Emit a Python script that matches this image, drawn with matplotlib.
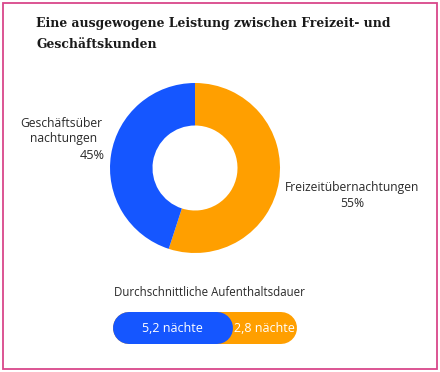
import matplotlib.pyplot as plt
from matplotlib.patches import Rectangle

plt.rcParams['font.family'] = ['Open Sans', 'DejaVu Sans']

W, H = 440, 372

title_lines = ['Eine ausgewogene Leistung zwischen Freizeit- und', 'Geschäftskunden']
segments = ['Freizeitübernachtungen', 'Geschäftsübernachtungen']
shares = [55, 45]
colors = ['#ff9f00', '#1556ff']
stay_label = 'Durchschnittliche Aufenthaltsdauer'
stay_nights = [5.2, 2.8]
stay_texts = ['5,2 nächte', '2,8 nächte']


def fx(px):
    return px / W


def fy(py):
    return 1 - py / H


fig = plt.figure(figsize=(W / 100, H / 100), dpi=100)
fig.patch.set_facecolor('white')

# pink frame
fig.patches.append(Rectangle((fx(3), fy(369)), fx(434), 366 / H, transform=fig.transFigure,
                             fill=False, edgecolor='#d9468a', linewidth=1.3))

# title
for i, line in enumerate(title_lines):
    fig.text(fx(36), fy(27 + 21 * i), line, family=['DejaVu Serif'], weight='bold',
             fontsize=8.9, va='baseline', ha='left', color='#1a1a1a')

# donut
ax = fig.add_axes([fx(110), fy(253), 170 / W, 170 / H])
ax.pie(shares, colors=colors, startangle=90, counterclock=False,
       wedgeprops=dict(width=0.5, linewidth=0), radius=1)
ax.set_xlim(-1, 1)
ax.set_ylim(-1, 1)
ax.set_aspect('equal')
ax.axis('off')

lab_kw = dict(fontsize=8.7, color='#2a2a2a', va='baseline')
fig.text(fx(352), fy(191), segments[0], ha='center', **lab_kw)
fig.text(fx(352), fy(207), f'{shares[0]}%', ha='center', **lab_kw)
fig.text(fx(61), fy(127), 'Geschäftsüber', ha='center', **lab_kw)
fig.text(fx(64), fy(142), 'nachtungen', ha='center', **lab_kw)
fig.text(fx(92), fy(159), f'{shares[1]}%', ha='center', fontsize=9.2, color='#2a2a2a', va='baseline')

# average stay bar
fig.text(fx(209), fy(296), stay_label, ha='center', fontsize=8.3, color='#2a2a2a', va='baseline')
bx = fig.add_axes([fx(113), fy(344), 184 / W, 32 / H])
total = sum(stay_nights)
bx.set_xlim(0, total)
bx.set_ylim(0, 1)
bx.axis('off')
px_per_unit = 184 / total
r = 16 / px_per_unit
lw = 32 * 72 / 100
bx.plot([r, total - r], [0.5, 0.5], color=colors[0], lw=lw, solid_capstyle='round')
bx.plot([r, stay_nights[0] - r], [0.5, 0.5], color=colors[1], lw=lw, solid_capstyle='round')
bx.text(stay_nights[0] / 2, 0.5, stay_texts[0], ha='center', va='center', color='white', fontsize=9)
bx.text(stay_nights[0] + stay_nights[1] / 2, 0.5, stay_texts[1], ha='center', va='center',
        color='white', fontsize=9)

fig.savefig('out.png', dpi=100)
